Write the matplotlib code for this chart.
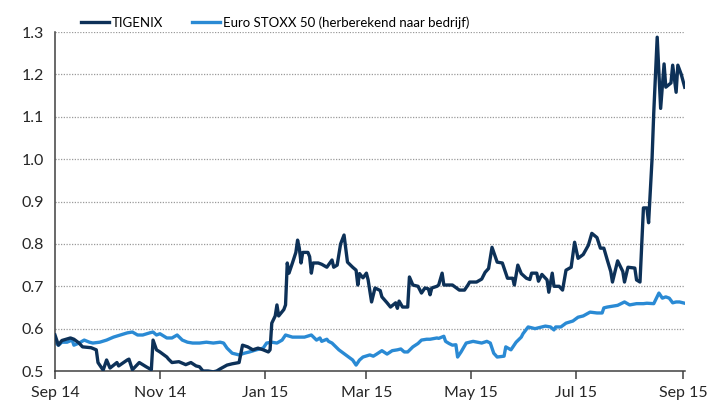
import matplotlib
matplotlib.use("Agg")
import matplotlib.pyplot as plt
import matplotlib.dates as mdates
import pandas as pd

# TIGENIX koers
tig_dates = [
    "2014-09-01", "2014-09-03", "2014-09-05", "2014-09-10", "2014-09-12", "2014-09-15",
    "2014-09-17", "2014-09-22", "2014-09-25", "2014-09-26", "2014-09-29", "2014-10-01",
    "2014-10-03", "2014-10-07", "2014-10-08", "2014-10-13", "2014-10-14", "2014-10-16",
    "2014-10-20", "2014-10-24", "2014-10-27", "2014-10-28", "2014-10-30", "2014-11-01",
    "2014-11-05", "2014-11-06", "2014-11-08", "2014-11-12", "2014-11-16", "2014-11-19",
    "2014-11-22", "2014-11-24", "2014-11-26", "2014-11-29", "2014-12-02", "2014-12-04",
    "2014-12-06", "2014-12-10", "2014-12-13", "2014-12-17", "2014-12-19", "2014-12-22",
    "2014-12-25", "2014-12-28", "2014-12-31", "2015-01-03", "2015-01-04", "2015-01-05",
    "2015-01-07", "2015-01-08", "2015-01-09", "2015-01-12", "2015-01-13", "2015-01-14",
    "2015-01-15", "2015-01-17", "2015-01-19", "2015-01-20", "2015-01-21", "2015-01-22",
    "2015-01-23", "2015-01-26", "2015-01-27", "2015-01-28", "2015-01-29", "2015-02-01",
    "2015-02-03", "2015-02-06", "2015-02-09", "2015-02-10", "2015-02-12", "2015-02-14",
    "2015-02-16", "2015-02-17", "2015-02-18", "2015-02-21", "2015-02-23", "2015-02-24",
    "2015-02-25", "2015-02-27", "2015-03-01", "2015-03-02", "2015-03-04", "2015-03-06",
    "2015-03-09", "2015-03-10", "2015-03-13", "2015-03-15", "2015-03-18", "2015-03-19",
    "2015-03-20", "2015-03-22", "2015-03-25", "2015-03-26", "2015-03-28", "2015-03-31",
    "2015-04-02", "2015-04-04", "2015-04-06", "2015-04-07", "2015-04-08", "2015-04-11",
    "2015-04-12", "2015-04-14", "2015-04-15", "2015-04-20", "2015-04-24", "2015-04-27",
    "2015-04-29", "2015-04-30", "2015-05-04", "2015-05-07", "2015-05-09", "2015-05-11",
    "2015-05-13", "2015-05-16", "2015-05-19", "2015-05-22", "2015-05-25", "2015-05-26",
    "2015-05-28", "2015-05-30", "2015-06-02", "2015-06-04", "2015-06-05", "2015-06-08",
    "2015-06-09", "2015-06-11", "2015-06-14", "2015-06-15", "2015-06-17", "2015-06-18",
    "2015-06-21", "2015-06-23", "2015-06-25", "2015-06-28", "2015-06-30", "2015-07-02",
    "2015-07-05", "2015-07-08", "2015-07-10", "2015-07-13", "2015-07-15", "2015-07-17",
    "2015-07-19", "2015-07-21", "2015-07-22", "2015-07-25", "2015-07-28", "2015-07-29",
    "2015-07-31", "2015-08-04", "2015-08-05", "2015-08-07", "2015-08-09", "2015-08-11",
    "2015-08-12", "2015-08-14", "2015-08-15", "2015-08-17", "2015-08-19", "2015-08-21",
    "2015-08-22", "2015-08-25", "2015-08-26", "2015-08-28", "2015-08-29", "2015-08-31",
    "2015-09-02",
]
tig_values = [
    0.585, 0.561, 0.572, 0.578, 0.575, 0.566,
    0.557, 0.555, 0.550, 0.520, 0.502, 0.526,
    0.507, 0.520, 0.512, 0.526, 0.528, 0.503,
    0.520, 0.510, 0.503, 0.573, 0.550, 0.545,
    0.533, 0.528, 0.520, 0.522, 0.515, 0.520,
    0.512, 0.510, 0.500, 0.500, 0.498, 0.500,
    0.505, 0.514, 0.517, 0.520, 0.561, 0.557,
    0.550, 0.554, 0.550, 0.545, 0.550, 0.613,
    0.630, 0.656, 0.630, 0.645, 0.656, 0.755,
    0.731, 0.755, 0.780, 0.809, 0.790, 0.755,
    0.780, 0.780, 0.770, 0.731, 0.755, 0.755,
    0.752, 0.745, 0.762, 0.745, 0.750, 0.800,
    0.821, 0.790, 0.757, 0.745, 0.738, 0.703,
    0.730, 0.720, 0.731, 0.715, 0.663, 0.696,
    0.690, 0.675, 0.661, 0.651, 0.661, 0.648,
    0.665, 0.651, 0.651, 0.722, 0.703, 0.700,
    0.684, 0.696, 0.694, 0.680, 0.696, 0.700,
    0.703, 0.731, 0.703, 0.703, 0.691, 0.691,
    0.703, 0.710, 0.710, 0.717, 0.733, 0.742,
    0.792, 0.757, 0.755, 0.719, 0.719, 0.703,
    0.750, 0.730, 0.719, 0.716, 0.731, 0.731,
    0.712, 0.728, 0.715, 0.686, 0.731, 0.700,
    0.700, 0.691, 0.738, 0.745, 0.804, 0.766,
    0.775, 0.797, 0.825, 0.815, 0.790, 0.790,
    0.762, 0.735, 0.710, 0.760, 0.735, 0.710,
    0.745, 0.743, 0.715, 0.710, 0.885, 0.885,
    0.850, 1.000, 1.110, 1.288, 1.120, 1.225,
    1.170, 1.180, 1.222, 1.158, 1.222, 1.200,
    1.170,
]

# Euro STOXX 50, herberekend naar bedrijf
sx_dates = [
    "2014-09-01", "2014-09-03", "2014-09-05", "2014-09-08", "2014-09-11", "2014-09-12",
    "2014-09-15", "2014-09-18", "2014-09-21", "2014-09-23", "2014-09-27", "2014-10-01",
    "2014-10-05", "2014-10-09", "2014-10-13", "2014-10-16", "2014-10-19", "2014-10-22",
    "2014-10-26", "2014-10-28", "2014-10-30", "2014-11-01", "2014-11-05", "2014-11-08",
    "2014-11-11", "2014-11-14", "2014-11-17", "2014-11-20", "2014-11-24", "2014-11-28",
    "2014-12-02", "2014-12-06", "2014-12-08", "2014-12-10", "2014-12-13", "2014-12-17",
    "2014-12-20", "2014-12-23", "2014-12-27", "2014-12-31", "2015-01-02", "2015-01-05",
    "2015-01-08", "2015-01-11", "2015-01-13", "2015-01-17", "2015-01-21", "2015-01-24",
    "2015-01-28", "2015-01-31", "2015-02-02", "2015-02-03", "2015-02-06", "2015-02-07",
    "2015-02-09", "2015-02-13", "2015-02-17", "2015-02-21", "2015-02-23", "2015-02-25",
    "2015-02-27", "2015-03-03", "2015-03-05", "2015-03-07", "2015-03-10", "2015-03-13",
    "2015-03-16", "2015-03-19", "2015-03-21", "2015-03-23", "2015-03-25", "2015-03-28",
    "2015-03-31", "2015-04-02", "2015-04-05", "2015-04-07", "2015-04-11", "2015-04-12",
    "2015-04-15", "2015-04-16", "2015-04-18", "2015-04-20", "2015-04-22", "2015-04-23",
    "2015-04-25", "2015-04-28", "2015-05-02", "2015-05-07", "2015-05-10", "2015-05-12",
    "2015-05-14", "2015-05-16", "2015-05-20", "2015-05-21", "2015-05-24", "2015-05-27",
    "2015-05-30", "2015-05-31", "2015-06-03", "2015-06-07", "2015-06-11", "2015-06-13",
    "2015-06-16", "2015-06-18", "2015-06-19", "2015-06-22", "2015-06-25", "2015-06-29",
    "2015-07-02", "2015-07-05", "2015-07-09", "2015-07-13", "2015-07-16", "2015-07-17",
    "2015-07-19", "2015-07-22", "2015-07-25", "2015-07-29", "2015-08-01", "2015-08-05",
    "2015-08-09", "2015-08-11", "2015-08-15", "2015-08-18", "2015-08-20", "2015-08-22",
    "2015-08-24", "2015-08-26", "2015-08-28", "2015-08-30", "2015-09-02",
]
sx_values = [
    0.568, 0.561, 0.568, 0.568, 0.573, 0.561,
    0.566, 0.573, 0.568, 0.566, 0.568, 0.573,
    0.580, 0.585, 0.590, 0.592, 0.585, 0.585,
    0.590, 0.592, 0.585, 0.588, 0.578, 0.578,
    0.585, 0.573, 0.568, 0.566, 0.566, 0.568,
    0.566, 0.568, 0.566, 0.554, 0.542, 0.538,
    0.542, 0.545, 0.550, 0.554, 0.566, 0.568,
    0.566, 0.573, 0.585, 0.580, 0.580, 0.580,
    0.585, 0.573, 0.578, 0.570, 0.575, 0.570,
    0.566, 0.550, 0.538, 0.526, 0.514, 0.526,
    0.533, 0.538, 0.535, 0.540, 0.548, 0.540,
    0.548, 0.550, 0.552, 0.545, 0.545, 0.557,
    0.565, 0.573, 0.575, 0.575, 0.578, 0.577,
    0.582, 0.570, 0.565, 0.561, 0.562, 0.533,
    0.545, 0.566, 0.570, 0.566, 0.570, 0.566,
    0.542, 0.533, 0.535, 0.557, 0.550, 0.568,
    0.580, 0.588, 0.604, 0.600, 0.604, 0.606,
    0.604, 0.597, 0.604, 0.604, 0.613, 0.618,
    0.627, 0.630, 0.639, 0.637, 0.637, 0.649,
    0.651, 0.653, 0.655, 0.663, 0.656, 0.659,
    0.659, 0.660, 0.659, 0.684, 0.672, 0.675,
    0.672, 0.661, 0.663, 0.663, 0.660,
]

legend_labels = ["TIGENIX", "Euro STOXX 50 (herberekend naar bedrijf)"]
month_ticks = ["2014-09-01", "2014-11-01", "2015-01-01", "2015-03-01",
               "2015-05-01", "2015-07-01", "2015-09-01"]
y_ticks = [0.5, 0.6, 0.7, 0.8, 0.9, 1.0, 1.1, 1.2, 1.3]

plt.rcParams["font.family"] = ["Lato", "DejaVu Sans"]

fig = plt.figure(figsize=(7.14, 4.12), dpi=100)
ax = fig.add_axes([0.077, 0.0995, 0.882, 0.8225])

ax.plot(pd.to_datetime(tig_dates), tig_values, color="#0d3158", lw=2.4,
        label=legend_labels[0], solid_joinstyle="round", zorder=3)
ax.plot(pd.to_datetime(sx_dates), sx_values, color="#2a8ad4", lw=2.4,
        label=legend_labels[1], solid_joinstyle="round", zorder=2)

ax.set_ylim(0.5, 1.3)
ax.set_yticks(y_ticks)
ax.yaxis.set_major_formatter(matplotlib.ticker.FormatStrFormatter("%.1f"))
ax.set_xlim(pd.Timestamp("2014-09-01"), pd.Timestamp("2015-09-02"))
ax.set_xticks(pd.to_datetime(month_ticks))
ax.xaxis.set_major_formatter(mdates.DateFormatter("%b %y"))

for yv in y_ticks[1:]:
    ax.axhline(yv, color="#9a9a9a", lw=0.9, ls=(0, (1, 1.2)), zorder=1)

for s in ["top", "right"]:
    ax.spines[s].set_visible(False)
for s in ["left", "bottom"]:
    ax.spines[s].set_color("#404040")
    ax.spines[s].set_linewidth(1.1)

ax.tick_params(axis="x", direction="out", length=6, width=1.1, color="#404040",
               labelsize=11.5, labelcolor="#262626", pad=5)
ax.tick_params(axis="y", length=0, labelsize=11.5, labelcolor="#262626", pad=8)

ax.legend(loc="lower center", bbox_to_anchor=(0.35, 0.995), ncol=2, frameon=False,
          fontsize=9.5, handlelength=2.1, columnspacing=2.2, handletextpad=0.25,
          borderaxespad=0)

fig.savefig("out.png", dpi=100)
plt.close(fig)
